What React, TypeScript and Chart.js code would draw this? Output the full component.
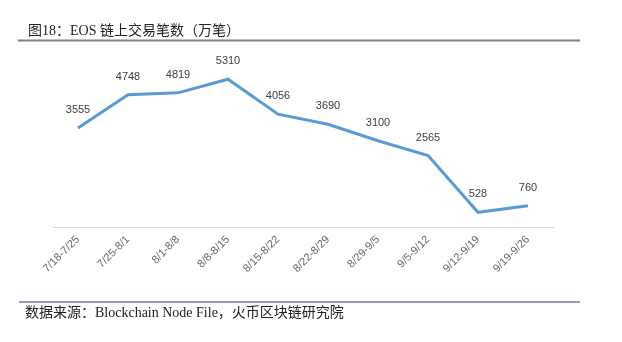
import React, { useEffect, useRef } from "react";
import { Chart, registerables } from "chart.js";

Chart.register(...registerables);

const categories = [
  "7/18-7/25",
  "7/25-8/1",
  "8/1-8/8",
  "8/8-8/15",
  "8/15-8/22",
  "8/22-8/29",
  "8/29-9/5",
  "9/5-9/12",
  "9/12-9/19",
  "9/19-9/26",
];
const values = [3555, 4748, 4819, 5310, 4056, 3690, 3100, 2565, 528, 760];
const titleText = "图18：EOS 链上交易笔数（万笔）";
const sourceText = "数据来源：Blockchain Node File，火币区块链研究院";

const SERIF = '"Liberation Serif", "Noto Sans CJK SC", serif';
const SANS = '"Liberation Sans", Arial, sans-serif';

const decorPlugin = {
  id: "decor",
  afterDraw(chart: any) {
    const ctx = chart.ctx as CanvasRenderingContext2D;
    ctx.save();
    // title
    ctx.fillStyle = "#222222";
    ctx.font = `14px ${SERIF}`;
    ctx.textAlign = "left";
    ctx.textBaseline = "middle";
    ctx.fillText(titleText, 28, 31);
    // title rule
    ctx.strokeStyle = "#808080";
    ctx.lineWidth = 2;
    ctx.beginPath();
    ctx.moveTo(18, 40.5);
    ctx.lineTo(580, 40.5);
    ctx.stroke();
    // footer rule
    ctx.strokeStyle = "#7478a0";
    ctx.lineWidth = 1.5;
    ctx.beginPath();
    ctx.moveTo(19, 302);
    ctx.lineTo(580, 302);
    ctx.stroke();
    // footer text
    ctx.fillStyle = "#222222";
    ctx.font = `14px ${SERIF}`;
    ctx.fillText(sourceText, 25, 313);
    // data labels
    const meta = chart.getDatasetMeta(0);
    ctx.font = `11px ${SANS}`;
    ctx.fillStyle = "#404040";
    ctx.textAlign = "center";
    ctx.textBaseline = "middle";
    meta.data.forEach((pt: any, i: number) => {
      ctx.fillText(String(values[i]), pt.x, pt.y - 18);
    });
    ctx.restore();
  },
};

export default function App() {
  const ref = useRef<HTMLCanvasElement>(null);
  useEffect(() => {
    document.body.style.margin = "0";
    const chart = new Chart(ref.current!, {
      type: "line",
      data: {
        labels: categories,
        datasets: [
          {
            data: values,
            borderColor: "#5B9BD5",
            borderWidth: 3,
            pointRadius: 0,
            tension: 0,
            fill: false,
          },
        ],
      },
      options: {
        animation: false,
        responsive: false,
        layout: { padding: { top: 60, left: 53, right: 69, bottom: 0 } },
        plugins: { legend: { display: false }, tooltip: { enabled: false } },
        scales: {
          x: {
            offset: true,
            grid: { display: false, drawTicks: false },
            border: { color: "#d9d9d9", width: 1 },
            ticks: {
              minRotation: 45,
              maxRotation: 45,
              autoSkip: false,
              padding: 6,
              color: "#666666",
              font: { size: 11, family: SANS },
            },
            afterFit: (s: any) => {
              s.height = 115;
            },
          },
          y: { display: false, min: 0, max: 6000 },
        },
      },
      plugins: [decorPlugin],
    });
    return () => chart.destroy();
  }, []);
  return <canvas ref={ref} width={622} height={342} style={{ display: "block" }} />;
}
